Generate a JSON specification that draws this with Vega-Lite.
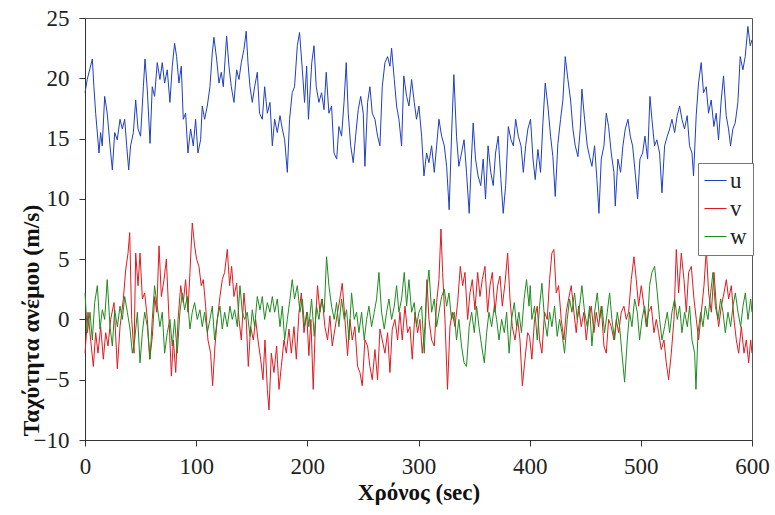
{
"$schema": "https://vega.github.io/schema/vega-lite/v6.json",
"width": 667, "height": 422,
"autosize": {"type": "none"},
"padding": {"left": 85, "top": 18, "right": 23, "bottom": 75},
"background": "white",
"config": {"font": "Liberation Serif", "view": {"stroke": "#555", "strokeWidth": 1}},
"datasets": {
"u": [
{"t":0,"speed":18.8},{"t":2,"speed":19.9},{"t":6.6,"speed":21.6},{"t":8,"speed":19.3},{"t":9.6,"speed":17.1},{"t":12.6,"speed":13.8},{"t":14,"speed":15.5},{"t":15.5,"speed":14.4},{"t":17.7,"speed":18.5},{"t":20,"speed":17.1},{"t":22.5,"speed":14.4},{"t":24.6,"speed":12.4},{"t":26.7,"speed":15.5},{"t":29,"speed":14.9},{"t":31.5,"speed":16.6},{"t":33.6,"speed":15.8},{"t":35.7,"speed":16.6},{"t":37.5,"speed":14.4},{"t":39.3,"speed":12.4},{"t":41,"speed":14.4},{"t":43.5,"speed":15.5},{"t":45.6,"speed":18.2},{"t":47.7,"speed":15.8},{"t":50,"speed":15.2},{"t":52.5,"speed":19.3},{"t":54,"speed":21.6},{"t":56,"speed":19.1},{"t":58.5,"speed":14.6},{"t":60.5,"speed":19.3},{"t":62.6,"speed":18.5},{"t":65,"speed":21.3},{"t":67.4,"speed":19.9},{"t":69.5,"speed":21.3},{"t":71.6,"speed":19.6},{"t":74,"speed":20.7},{"t":76.4,"speed":18},{"t":78.5,"speed":21},{"t":80.6,"speed":22.9},{"t":82.4,"speed":21.8},{"t":84.5,"speed":19.6},{"t":86.6,"speed":21},{"t":88.4,"speed":16.6},{"t":90.5,"speed":17.1},{"t":92.6,"speed":13.8},{"t":95,"speed":15.8},{"t":97.4,"speed":14.4},{"t":99.5,"speed":16.6},{"t":101.6,"speed":13.8},{"t":104,"speed":14.9},{"t":105.5,"speed":17.7},{"t":107.6,"speed":16.6},{"t":110,"speed":17.7},{"t":112.4,"speed":19.3},{"t":114.5,"speed":22.1},{"t":116,"speed":23.4},{"t":118.4,"speed":21.6},{"t":120.5,"speed":19.6},{"t":122.6,"speed":20.5},{"t":124.4,"speed":19.3},{"t":127.4,"speed":23.5},{"t":129.5,"speed":21},{"t":131.6,"speed":19.3},{"t":134,"speed":18},{"t":136.4,"speed":20.7},{"t":138.5,"speed":19.9},{"t":140.6,"speed":21.3},{"t":143,"speed":22.4},{"t":145,"speed":23.9},{"t":146.6,"speed":21.3},{"t":148.4,"speed":19.3},{"t":150.5,"speed":18},{"t":152.6,"speed":19.3},{"t":155,"speed":20.5},{"t":157,"speed":17.1},{"t":159.5,"speed":16.6},{"t":161.6,"speed":19.3},{"t":164,"speed":17.1},{"t":166.4,"speed":18},{"t":168.5,"speed":14.4},{"t":170.6,"speed":16.6},{"t":173,"speed":15.5},{"t":175.4,"speed":16.9},{"t":177.5,"speed":15.8},{"t":179.6,"speed":14.9},{"t":182,"speed":12.2},{"t":184,"speed":16.6},{"t":186.4,"speed":18.8},{"t":188.5,"speed":19.3},{"t":191,"speed":22.7},{"t":193,"speed":23.8},{"t":195.5,"speed":20.7},{"t":197.5,"speed":18},{"t":199.4,"speed":21},{"t":201,"speed":16.6},{"t":204,"speed":21.3},{"t":206,"speed":22.7},{"t":208,"speed":19.3},{"t":210.4,"speed":18},{"t":212.8,"speed":18.8},{"t":215,"speed":17.4},{"t":217,"speed":20.5},{"t":219.4,"speed":17.1},{"t":221.8,"speed":17.7},{"t":224,"speed":13.8},{"t":226.4,"speed":13.3},{"t":228.4,"speed":16},{"t":230.8,"speed":15.2},{"t":233,"speed":18},{"t":235,"speed":21.3},{"t":236.8,"speed":17.1},{"t":239,"speed":14.4},{"t":241.3,"speed":13},{"t":243.4,"speed":15.2},{"t":245.8,"speed":17.4},{"t":248,"speed":18.5},{"t":250.3,"speed":17.1},{"t":251.8,"speed":12.7},{"t":254.2,"speed":18},{"t":256.3,"speed":19.3},{"t":258.4,"speed":17.1},{"t":260.8,"speed":16.6},{"t":263.2,"speed":15.2},{"t":265.3,"speed":14.4},{"t":267.4,"speed":19.3},{"t":269.8,"speed":21.3},{"t":272.2,"speed":21.8},{"t":274.3,"speed":21},{"t":275.8,"speed":22.5},{"t":278.2,"speed":19.9},{"t":280.3,"speed":17.7},{"t":282.4,"speed":16.6},{"t":284.8,"speed":14.4},{"t":286.8,"speed":20.2},{"t":289.3,"speed":18.5},{"t":291.4,"speed":17.7},{"t":293.8,"speed":19.9},{"t":296.2,"speed":18},{"t":298.2,"speed":16.6},{"t":300.4,"speed":17.7},{"t":302.8,"speed":15.2},{"t":304.9,"speed":11.9},{"t":307.3,"speed":13.8},{"t":309.4,"speed":13},{"t":311.8,"speed":14.4},{"t":314.2,"speed":12.2},{"t":316.3,"speed":14.4},{"t":318.4,"speed":16.6},{"t":320.8,"speed":15.2},{"t":323.2,"speed":14.4},{"t":325.3,"speed":12.7},{"t":327.6,"speed":9.1},{"t":329.7,"speed":15.2},{"t":331.8,"speed":20.3},{"t":334.2,"speed":15.2},{"t":336.3,"speed":12.7},{"t":338.7,"speed":13.8},{"t":341,"speed":14.9},{"t":343.2,"speed":12.2},{"t":345.6,"speed":8.8},{"t":347.6,"speed":13.3},{"t":349.2,"speed":16.3},{"t":351.3,"speed":13.3},{"t":353.6,"speed":11.9},{"t":356,"speed":11.1},{"t":358.2,"speed":13.3},{"t":360.3,"speed":10},{"t":362.6,"speed":14.4},{"t":365,"speed":12.2},{"t":367.2,"speed":11.1},{"t":369.3,"speed":13.8},{"t":371.7,"speed":15.2},{"t":374.1,"speed":11.6},{"t":376.2,"speed":8.8},{"t":378.4,"speed":11.1},{"t":380.8,"speed":16},{"t":383.2,"speed":14.9},{"t":385.3,"speed":14.4},{"t":387.4,"speed":16.6},{"t":389.8,"speed":15.2},{"t":392.2,"speed":14.4},{"t":394.3,"speed":12.2},{"t":396.4,"speed":14.4},{"t":398.4,"speed":15.8},{"t":400.8,"speed":16.6},{"t":403,"speed":13.3},{"t":405,"speed":11.6},{"t":407.4,"speed":14.1},{"t":409.8,"speed":12.2},{"t":411.9,"speed":16.3},{"t":414,"speed":19.6},{"t":416.4,"speed":17.7},{"t":418.8,"speed":15.2},{"t":420.9,"speed":13.5},{"t":423,"speed":10.2},{"t":425.4,"speed":14.6},{"t":427.8,"speed":16.6},{"t":429.9,"speed":18.2},{"t":432,"speed":21.8},{"t":434.4,"speed":19.9},{"t":436.8,"speed":18.2},{"t":438.9,"speed":15.8},{"t":441,"speed":14.4},{"t":443.4,"speed":13.5},{"t":445.5,"speed":15.8},{"t":447,"speed":19.1},{"t":449.4,"speed":16.6},{"t":451.8,"speed":14.4},{"t":453.9,"speed":13.5},{"t":456,"speed":12.7},{"t":458.4,"speed":14.4},{"t":460.5,"speed":11.6},{"t":462.3,"speed":8.8},{"t":464.4,"speed":13.3},{"t":466.8,"speed":14.4},{"t":468.9,"speed":17.1},{"t":471,"speed":16},{"t":473.4,"speed":13.8},{"t":475.8,"speed":12.2},{"t":477,"speed":9.4},{"t":479.4,"speed":13.3},{"t":481.8,"speed":12.2},{"t":483.9,"speed":14.4},{"t":486,"speed":15.8},{"t":488.4,"speed":16.6},{"t":490.5,"speed":15.2},{"t":492.6,"speed":14.4},{"t":494.7,"speed":12.4},{"t":497.1,"speed":10},{"t":499.2,"speed":13.3},{"t":501.6,"speed":13.8},{"t":503.7,"speed":15.2},{"t":506.1,"speed":13.3},{"t":508.2,"speed":18.5},{"t":510,"speed":16.6},{"t":512.3,"speed":14.4},{"t":514.4,"speed":14.9},{"t":516.9,"speed":13.8},{"t":519,"speed":10.5},{"t":521.4,"speed":14.4},{"t":523.8,"speed":15.2},{"t":525.9,"speed":15.8},{"t":528,"speed":16.6},{"t":530.4,"speed":15.5},{"t":532.7,"speed":16.9},{"t":534.9,"speed":17.7},{"t":537,"speed":16.6},{"t":539.3,"speed":15.8},{"t":541.7,"speed":16.9},{"t":543.8,"speed":14.4},{"t":546,"speed":13.8},{"t":547.4,"speed":11.9},{"t":549.8,"speed":16.9},{"t":551.9,"speed":19.6},{"t":554.3,"speed":21.3},{"t":556.4,"speed":18.8},{"t":558.8,"speed":19.3},{"t":560.9,"speed":17.1},{"t":563.3,"speed":18.2},{"t":565.7,"speed":16},{"t":567.8,"speed":17.1},{"t":569.9,"speed":14.9},{"t":572.3,"speed":18.2},{"t":574.4,"speed":20.2},{"t":576.8,"speed":16.9},{"t":578.9,"speed":15.8},{"t":580.7,"speed":14.4},{"t":582.8,"speed":15.8},{"t":584.9,"speed":16.3},{"t":587.3,"speed":18},{"t":589.4,"speed":21.8},{"t":591.8,"speed":20.7},{"t":593.9,"speed":21.8},{"t":596.3,"speed":24.3},{"t":598.4,"speed":22.7},{"t":600,"speed":23.2}
],
"v": [
{"t":0,"speed":-2.8},{"t":2.7,"speed":0.6},{"t":5.1,"speed":-1.7},{"t":7.5,"speed":-3.9},{"t":9.6,"speed":-1.1},{"t":11.7,"speed":-2.8},{"t":14.1,"speed":-0.6},{"t":16.5,"speed":-3.3},{"t":18.6,"speed":-1.1},{"t":20.7,"speed":-2.2},{"t":23.1,"speed":0},{"t":26.1,"speed":1.4},{"t":29.1,"speed":-4.1},{"t":31.5,"speed":-0.6},{"t":34.5,"speed":1.7},{"t":36.6,"speed":4.1},{"t":38.7,"speed":5.5},{"t":40.2,"speed":7.2},{"t":42,"speed":0},{"t":44.1,"speed":-2.8},{"t":45.6,"speed":5.5},{"t":47.7,"speed":2.8},{"t":49.5,"speed":5.5},{"t":51.6,"speed":1.7},{"t":53.7,"speed":2.2},{"t":56.1,"speed":0},{"t":58.2,"speed":-3.3},{"t":60.6,"speed":-1.4},{"t":62.7,"speed":1.9},{"t":64.5,"speed":0.6},{"t":66.6,"speed":6.1},{"t":68.7,"speed":1.9},{"t":71.1,"speed":3.3},{"t":73.2,"speed":5},{"t":75.6,"speed":0},{"t":77.7,"speed":-4.7},{"t":79.5,"speed":-1.7},{"t":81.6,"speed":-4.4},{"t":83.7,"speed":0},{"t":86.1,"speed":2.8},{"t":88.4,"speed":1.4},{"t":90.5,"speed":3.3},{"t":92.6,"speed":0.6},{"t":94.4,"speed":3.9},{"t":96.5,"speed":8},{"t":98.6,"speed":6.1},{"t":100.4,"speed":5},{"t":102.5,"speed":4.4},{"t":104.6,"speed":2.8},{"t":106.4,"speed":3.3},{"t":108.5,"speed":1.1},{"t":110.6,"speed":-1.7},{"t":113,"speed":-2.8},{"t":114.8,"speed":-5.5},{"t":116.9,"speed":-2.2},{"t":119,"speed":0},{"t":121.4,"speed":1.9},{"t":123.5,"speed":3.3},{"t":125.6,"speed":3.9},{"t":128,"speed":5.8},{"t":130.1,"speed":2.8},{"t":131.9,"speed":4.4},{"t":134,"speed":1.9},{"t":136.4,"speed":3},{"t":138.5,"speed":0},{"t":140.6,"speed":-1.7},{"t":143,"speed":2.2},{"t":145,"speed":0},{"t":146.9,"speed":-3.9},{"t":149,"speed":-0.6},{"t":151.4,"speed":-1.7},{"t":153.5,"speed":0},{"t":155.6,"speed":-1.7},{"t":158,"speed":-3.3},{"t":160.1,"speed":-5},{"t":161.9,"speed":-1.7},{"t":164,"speed":-5.8},{"t":165.5,"speed":-7.5},{"t":167.6,"speed":-2.8},{"t":170,"speed":-4.4},{"t":172.4,"speed":-2.2},{"t":174.5,"speed":-5.8},{"t":176.6,"speed":-3.9},{"t":179,"speed":-1.7},{"t":181.1,"speed":-2.8},{"t":183.5,"speed":-0.8},{"t":185.6,"speed":-2.8},{"t":188,"speed":-0.6},{"t":190.1,"speed":-3.3},{"t":192.5,"speed":0.6},{"t":194.6,"speed":2.2},{"t":197,"speed":-1.1},{"t":199.4,"speed":0.6},{"t":201.4,"speed":-3},{"t":203.2,"speed":0},{"t":205.3,"speed":-5.8},{"t":207.4,"speed":0},{"t":209.2,"speed":2.8},{"t":211.3,"speed":0.6},{"t":213.4,"speed":1.7},{"t":215.8,"speed":-0.6},{"t":218.2,"speed":-1.7},{"t":220.3,"speed":0.3},{"t":222.4,"speed":-2.2},{"t":224.8,"speed":-0.8},{"t":227.2,"speed":0.6},{"t":229.3,"speed":1.7},{"t":231.4,"speed":3},{"t":233.8,"speed":0},{"t":236.2,"speed":-3},{"t":238.3,"speed":0},{"t":240.4,"speed":-1.7},{"t":242.8,"speed":-0.6},{"t":245.2,"speed":-3.9},{"t":247.3,"speed":-4.4},{"t":249.4,"speed":-5.5},{"t":251.8,"speed":-1.7},{"t":254.2,"speed":-2.2},{"t":256.3,"speed":-3.9},{"t":258.4,"speed":-5},{"t":260.8,"speed":-2.5},{"t":263.2,"speed":-5},{"t":265.3,"speed":-0.8},{"t":267.4,"speed":-1.7},{"t":269.8,"speed":-2.8},{"t":272.2,"speed":-1.1},{"t":274.3,"speed":-4.4},{"t":276.4,"speed":-0.8},{"t":278.8,"speed":0},{"t":281.2,"speed":-1.7},{"t":283.3,"speed":0.6},{"t":285.4,"speed":-1.7},{"t":287.8,"speed":1.1},{"t":290.2,"speed":-1.1},{"t":292.3,"speed":-0.6},{"t":294.4,"speed":-3.3},{"t":296.8,"speed":0.6},{"t":299.2,"speed":-1.1},{"t":301.3,"speed":0},{"t":303.4,"speed":-2.8},{"t":305.8,"speed":-0.6},{"t":307.6,"speed":3.3},{"t":309.4,"speed":0},{"t":311.8,"speed":-1.7},{"t":314.2,"speed":-2.2},{"t":316.3,"speed":1.4},{"t":318.4,"speed":3.3},{"t":320.2,"speed":7.5},{"t":321.7,"speed":3.9},{"t":323.8,"speed":0},{"t":326.1,"speed":-5.8},{"t":328.3,"speed":-0.6},{"t":330.4,"speed":0.6},{"t":332.8,"speed":-0.6},{"t":335.2,"speed":1.4},{"t":337.6,"speed":4.4},{"t":339.7,"speed":2.8},{"t":341.8,"speed":3.9},{"t":344.2,"speed":0},{"t":346.3,"speed":2.2},{"t":348.4,"speed":3.3},{"t":350.8,"speed":0.8},{"t":353.2,"speed":3.9},{"t":355.3,"speed":1.9},{"t":357.4,"speed":3.3},{"t":359.8,"speed":4.4},{"t":362.2,"speed":0.6},{"t":364.3,"speed":2.8},{"t":366.4,"speed":3.9},{"t":368.8,"speed":0.6},{"t":371.2,"speed":2.8},{"t":373.3,"speed":3.6},{"t":375.4,"speed":1.1},{"t":377.8,"speed":3},{"t":380.2,"speed":5.5},{"t":382.3,"speed":1.7},{"t":384.4,"speed":-0.6},{"t":386.8,"speed":-1.7},{"t":389.2,"speed":0},{"t":391.3,"speed":-1.7},{"t":393.4,"speed":-5.5},{"t":395.8,"speed":-3.3},{"t":398.2,"speed":-1.1},{"t":399.9,"speed":-1.4},{"t":402,"speed":-3.3},{"t":404.4,"speed":0},{"t":406.8,"speed":1.1},{"t":408.9,"speed":-1.7},{"t":411,"speed":-2.8},{"t":413.4,"speed":0.6},{"t":415.8,"speed":0},{"t":417.9,"speed":3.3},{"t":420,"speed":5.5},{"t":421.8,"speed":5.8},{"t":423.9,"speed":2.2},{"t":426,"speed":2.8},{"t":428.4,"speed":0},{"t":430.8,"speed":-1.7},{"t":432.9,"speed":0.6},{"t":435,"speed":1.7},{"t":437.4,"speed":2.8},{"t":439.8,"speed":0.6},{"t":441.9,"speed":-1.1},{"t":444,"speed":1.1},{"t":446.4,"speed":-0.6},{"t":448.8,"speed":0.6},{"t":450.9,"speed":-1.7},{"t":453,"speed":0},{"t":455.4,"speed":1.1},{"t":457.8,"speed":-1.1},{"t":459.9,"speed":0.6},{"t":462,"speed":-0.6},{"t":464.4,"speed":1.1},{"t":466.8,"speed":-2.2},{"t":468.9,"speed":-2.8},{"t":471,"speed":0},{"t":473.4,"speed":-0.6},{"t":475.8,"speed":-1.7},{"t":477.9,"speed":0},{"t":480,"speed":-1.1},{"t":482.4,"speed":0.6},{"t":484.8,"speed":1.1},{"t":486.9,"speed":0},{"t":489,"speed":0.6},{"t":491.4,"speed":3.3},{"t":493.8,"speed":5.2},{"t":495.9,"speed":3.3},{"t":498,"speed":1.1},{"t":500.4,"speed":2.8},{"t":502.8,"speed":1.1},{"t":504.9,"speed":-0.6},{"t":507,"speed":0.6},{"t":509.4,"speed":1.1},{"t":511.8,"speed":-1.1},{"t":513.9,"speed":0},{"t":516,"speed":-1.1},{"t":518.4,"speed":-2.5},{"t":520.8,"speed":-1.7},{"t":522.9,"speed":-3.6},{"t":525,"speed":-5},{"t":527.4,"speed":-2.8},{"t":529.8,"speed":0},{"t":531.9,"speed":5.8},{"t":534,"speed":2.2},{"t":536.4,"speed":5.5},{"t":538.8,"speed":3.3},{"t":540.9,"speed":0.6},{"t":543,"speed":3.9},{"t":545.4,"speed":4.4},{"t":547.8,"speed":1.7},{"t":549.9,"speed":0},{"t":552,"speed":-1.7},{"t":554.4,"speed":0.6},{"t":556.8,"speed":2.8},{"t":558.9,"speed":5.8},{"t":561,"speed":2.2},{"t":563.4,"speed":0.6},{"t":565.8,"speed":3.9},{"t":567.9,"speed":1.1},{"t":570,"speed":-0.6},{"t":572.4,"speed":1.1},{"t":574.8,"speed":2.2},{"t":576.9,"speed":3.3},{"t":579,"speed":1.7},{"t":581.4,"speed":2.8},{"t":583.8,"speed":0},{"t":585.9,"speed":-1.7},{"t":588,"speed":-2.8},{"t":590.4,"speed":-0.6},{"t":592.8,"speed":-2.8},{"t":594.9,"speed":-1.7},{"t":597,"speed":-3.6},{"t":598.8,"speed":-1.7},{"t":600,"speed":-2.8}
],
"w": [
{"t":0,"speed":2.2},{"t":2.1,"speed":-1.1},{"t":4.5,"speed":0.6},{"t":6.6,"speed":-1.7},{"t":8.7,"speed":1.4},{"t":11.1,"speed":2.8},{"t":13.5,"speed":-0.8},{"t":15.6,"speed":0.8},{"t":17.7,"speed":0},{"t":20,"speed":3.3},{"t":22.5,"speed":-0.6},{"t":24.6,"speed":-2.2},{"t":26.7,"speed":0.8},{"t":29.1,"speed":-0.6},{"t":31.5,"speed":1.1},{"t":33.6,"speed":0},{"t":35.7,"speed":1.9},{"t":38.1,"speed":0.6},{"t":40.5,"speed":-0.8},{"t":42.6,"speed":-2.8},{"t":44.7,"speed":-1.7},{"t":47.1,"speed":0.6},{"t":49.5,"speed":-3.6},{"t":51.6,"speed":-1.1},{"t":53.7,"speed":0.6},{"t":56.1,"speed":-0.6},{"t":58.5,"speed":-3.3},{"t":60.5,"speed":0},{"t":62.6,"speed":2.8},{"t":65,"speed":1.1},{"t":67.4,"speed":-0.6},{"t":69.5,"speed":0.6},{"t":71.6,"speed":-2.8},{"t":74,"speed":-1.1},{"t":76.4,"speed":0},{"t":78.5,"speed":-2.2},{"t":80.6,"speed":0},{"t":83,"speed":-2.8},{"t":85.4,"speed":0.6},{"t":87.5,"speed":2.2},{"t":89.6,"speed":0.8},{"t":92,"speed":1.9},{"t":94.4,"speed":-0.8},{"t":96.5,"speed":0.6},{"t":98.6,"speed":1.4},{"t":101,"speed":0},{"t":103.4,"speed":0.8},{"t":105.5,"speed":-0.6},{"t":107.6,"speed":0.6},{"t":110,"speed":-1.1},{"t":112.4,"speed":0},{"t":114.5,"speed":1.1},{"t":116.6,"speed":-1.7},{"t":119,"speed":0},{"t":121.4,"speed":1.1},{"t":123.5,"speed":-0.8},{"t":125.6,"speed":0.6},{"t":128,"speed":-0.6},{"t":130.4,"speed":1.1},{"t":132.5,"speed":0},{"t":134.6,"speed":0.8},{"t":137,"speed":-0.6},{"t":139.4,"speed":2.8},{"t":141.5,"speed":0.6},{"t":143.6,"speed":0},{"t":146,"speed":0.6},{"t":148.4,"speed":-1.4},{"t":150.5,"speed":0.8},{"t":152.6,"speed":-0.6},{"t":155,"speed":1.9},{"t":157.4,"speed":0.8},{"t":159.5,"speed":1.9},{"t":161.6,"speed":0},{"t":164,"speed":1.4},{"t":166.4,"speed":0.6},{"t":168.5,"speed":1.9},{"t":170.6,"speed":0.6},{"t":173,"speed":1.7},{"t":175.4,"speed":-0.6},{"t":177.5,"speed":1.1},{"t":179.6,"speed":-1.7},{"t":182,"speed":0},{"t":184.4,"speed":1.7},{"t":186.4,"speed":3.3},{"t":188.5,"speed":1.7},{"t":191,"speed":2.8},{"t":193.4,"speed":0.6},{"t":195.5,"speed":1.7},{"t":197.5,"speed":-0.6},{"t":200,"speed":0.6},{"t":201.4,"speed":-0.6},{"t":203.8,"speed":1.7},{"t":206.2,"speed":-1.4},{"t":208.3,"speed":1.1},{"t":210.4,"speed":0},{"t":212.8,"speed":1.7},{"t":215.2,"speed":0.6},{"t":217.3,"speed":5.2},{"t":219.4,"speed":2.8},{"t":221.8,"speed":1.1},{"t":224.2,"speed":0},{"t":226.3,"speed":1.4},{"t":228.4,"speed":-0.6},{"t":230.8,"speed":1.7},{"t":233.2,"speed":0},{"t":235.3,"speed":0.8},{"t":237.4,"speed":-1.7},{"t":239.8,"speed":2.2},{"t":242.2,"speed":0},{"t":244.3,"speed":0.6},{"t":246.4,"speed":-1.1},{"t":248.8,"speed":0.6},{"t":251.2,"speed":-1.7},{"t":253.3,"speed":0},{"t":255.4,"speed":1.1},{"t":257.8,"speed":-0.6},{"t":260.2,"speed":0.6},{"t":262.3,"speed":1.7},{"t":264.4,"speed":3.9},{"t":266.8,"speed":0.6},{"t":269.2,"speed":-0.8},{"t":271.3,"speed":0.6},{"t":273.4,"speed":1.7},{"t":275.8,"speed":0},{"t":278.2,"speed":1.1},{"t":280.3,"speed":2.8},{"t":282.4,"speed":0.6},{"t":284.8,"speed":1.7},{"t":287.2,"speed":3.9},{"t":289.3,"speed":1.1},{"t":291.4,"speed":3.3},{"t":293.8,"speed":0.6},{"t":296.2,"speed":1.4},{"t":298.2,"speed":-0.6},{"t":300.4,"speed":0.6},{"t":302.8,"speed":1.1},{"t":305.2,"speed":-2.8},{"t":307.3,"speed":2.2},{"t":309.4,"speed":4.1},{"t":311.8,"speed":0.6},{"t":314.2,"speed":1.7},{"t":316.3,"speed":-0.6},{"t":318.4,"speed":0.6},{"t":320.8,"speed":1.9},{"t":323.2,"speed":2.5},{"t":325.3,"speed":1.1},{"t":327.4,"speed":2.2},{"t":329.7,"speed":0},{"t":332.1,"speed":0.6},{"t":334.2,"speed":-1.7},{"t":336.3,"speed":0},{"t":338.7,"speed":-2.2},{"t":341,"speed":-3.6},{"t":343.2,"speed":-3.9},{"t":345.6,"speed":-0.6},{"t":347.8,"speed":0.6},{"t":350.2,"speed":-1.1},{"t":352.3,"speed":1.1},{"t":354.4,"speed":-0.6},{"t":356.8,"speed":-2.2},{"t":359.2,"speed":-3.6},{"t":361.3,"speed":-1.1},{"t":363.4,"speed":0.6},{"t":365.8,"speed":-0.6},{"t":368.2,"speed":1.1},{"t":370.3,"speed":0},{"t":372.4,"speed":-1.7},{"t":374.8,"speed":0},{"t":377.2,"speed":-1.1},{"t":379.3,"speed":0.6},{"t":381.5,"speed":-2.8},{"t":383.7,"speed":0},{"t":386.2,"speed":1.4},{"t":388.2,"speed":-0.6},{"t":390.3,"speed":0.6},{"t":392.6,"speed":-1.1},{"t":395,"speed":1.7},{"t":397.2,"speed":3.3},{"t":399.4,"speed":1.1},{"t":400.5,"speed":2.8},{"t":402,"speed":0},{"t":404.4,"speed":1.1},{"t":406.8,"speed":-1.7},{"t":408.9,"speed":1.1},{"t":411,"speed":3},{"t":413.4,"speed":0},{"t":415.8,"speed":-1.4},{"t":417.9,"speed":0.6},{"t":420,"speed":-0.6},{"t":422.4,"speed":1.1},{"t":424.8,"speed":-1.4},{"t":426.9,"speed":0},{"t":429,"speed":-1.1},{"t":431.4,"speed":-2.8},{"t":433.8,"speed":0},{"t":435.9,"speed":1.7},{"t":438,"speed":0.6},{"t":440.4,"speed":2.2},{"t":442.8,"speed":0},{"t":444.9,"speed":1.1},{"t":447,"speed":2.8},{"t":449.4,"speed":0.6},{"t":451.8,"speed":-0.6},{"t":453.9,"speed":1.1},{"t":456,"speed":-2.2},{"t":458.4,"speed":0.6},{"t":460.8,"speed":2.2},{"t":462.9,"speed":0},{"t":465,"speed":1.1},{"t":467.4,"speed":-1.1},{"t":469.8,"speed":0.6},{"t":471.9,"speed":2.2},{"t":474,"speed":0},{"t":476.4,"speed":-1.7},{"t":478.8,"speed":0.6},{"t":480.9,"speed":-0.6},{"t":483,"speed":-2.8},{"t":485.4,"speed":-5.2},{"t":487.8,"speed":-1.7},{"t":489.9,"speed":0.6},{"t":492,"speed":-0.6},{"t":494.4,"speed":1.7},{"t":496.8,"speed":0.6},{"t":498.9,"speed":-1.7},{"t":501,"speed":0},{"t":503.4,"speed":1.1},{"t":505.8,"speed":-0.6},{"t":507.9,"speed":2.8},{"t":510,"speed":3.9},{"t":512.4,"speed":4.4},{"t":514.8,"speed":2.2},{"t":516.9,"speed":0},{"t":519,"speed":-1.7},{"t":521.4,"speed":-0.6},{"t":523.8,"speed":0.6},{"t":525.9,"speed":-1.1},{"t":528,"speed":0.6},{"t":530.4,"speed":1.7},{"t":532.8,"speed":0},{"t":534.9,"speed":1.1},{"t":537,"speed":-1.1},{"t":539.4,"speed":0.6},{"t":541.8,"speed":-0.6},{"t":543.9,"speed":1.1},{"t":546,"speed":-1.7},{"t":548.4,"speed":-2.8},{"t":549.6,"speed":-5.8},{"t":551.4,"speed":-1.1},{"t":553.8,"speed":0.6},{"t":555.9,"speed":-0.6},{"t":558,"speed":1.1},{"t":560.4,"speed":0},{"t":562.8,"speed":2.2},{"t":564.9,"speed":3.9},{"t":567,"speed":1.1},{"t":569.4,"speed":0},{"t":571.8,"speed":1.7},{"t":573.9,"speed":0.6},{"t":576,"speed":-1.1},{"t":578.4,"speed":0.6},{"t":580.8,"speed":-0.6},{"t":582.9,"speed":1.1},{"t":585,"speed":2.2},{"t":587.4,"speed":0.6},{"t":589.8,"speed":-0.6},{"t":591.9,"speed":1.1},{"t":594,"speed":2.2},{"t":596.4,"speed":0},{"t":598.8,"speed":1.7},{"t":600,"speed":0.6}
]
},
"layer": [
{"data": {"name": "u"}, "mark": {"type": "line", "strokeWidth": 1},
 "encoding": {"color": {"datum": "u", "type": "nominal", "scale": {"domain": ["u","v","w"], "range": ["#1f3fc4","#e3191f","#1e8c1e"]},
  "legend": {"title": null, "orient": "none", "legendX": 613, "legendY": 145, "padding": 6, "strokeColor": "#777", "fillColor": "white", "symbolType": "stroke", "symbolSize": 484, "symbolStrokeWidth": 1, "labelFont": "Liberation Serif", "labelFontSize": 23, "labelColor": "#222", "labelOffset": 3, "rowPadding": 4}}}},
{"data": {"name": "v"}, "mark": {"type": "line", "strokeWidth": 1}, "encoding": {"color": {"datum": "v", "type": "nominal"}}},
{"data": {"name": "w"}, "mark": {"type": "line", "strokeWidth": 1}, "encoding": {"color": {"datum": "w", "type": "nominal"}}}
],
"encoding": {
"x": {"field": "t", "type": "quantitative", "scale": {"domain": [0, 600], "nice": false},
 "axis": {"title": "Χρόνος (sec)", "values": [0,100,200,300,400,500,600], "grid": false, "domainColor": "#333", "tickColor": "#333", "tickSize": 6, "labelPadding": 9, "labelFontSize": 23, "labelColor": "#222", "labelFont": "Liberation Serif", "titleFont": "Liberation Serif", "titleFontSize": 23, "titleFontWeight": "bold", "titleColor": "#111", "titlePadding": 3, "labelFlush": false}},
"y": {"field": "speed", "type": "quantitative", "scale": {"domain": [-10, 25], "nice": false},
 "axis": {"title": "Ταχύτητα ανέμου (m/s)", "values": [-10,-5,0,5,10,15,20,25], "grid": false, "domainColor": "#333", "tickColor": "#333", "tickSize": 6, "labelPadding": 10, "labelFontSize": 23, "labelColor": "#222", "labelFont": "Liberation Serif", "titleFont": "Liberation Serif", "titleFontSize": 23.5, "titleFontWeight": "bold", "titleColor": "#111", "titleX": -54, "titleY": 302, "titleAngle": -90, "titleAlign": "center", "titleBaseline": "middle", "labelFlush": false}}
}
}
